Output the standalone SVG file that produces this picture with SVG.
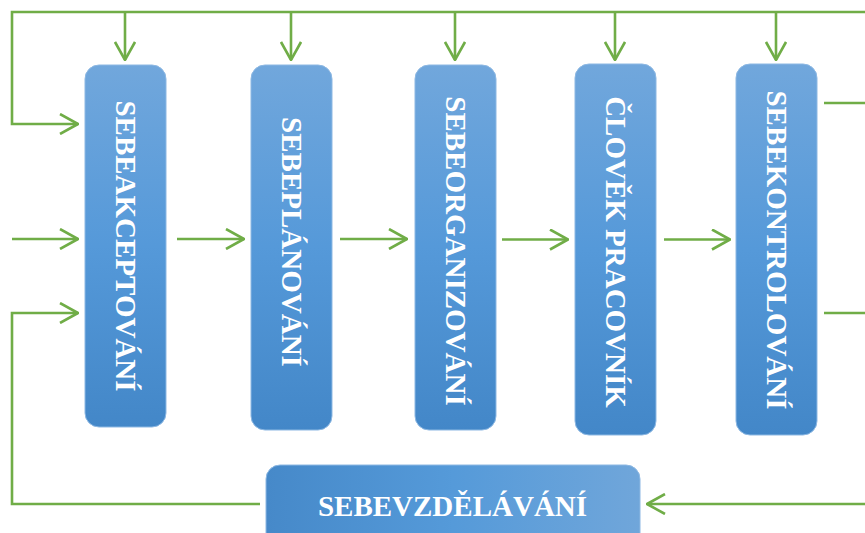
<svg xmlns="http://www.w3.org/2000/svg" width="865" height="533" viewBox="0 0 865 533">
<style>
.box{stroke:#8db8e3;stroke-width:1}
.v{fill:url(#gv)}
.h{fill:url(#gh)}
.lbl{font-family:"Liberation Serif","Times New Roman",serif;font-weight:bold;font-size:29px;fill:#ffffff;text-anchor:middle}
.c{fill:none;stroke:#70ad47;stroke-width:2.6;stroke-linejoin:miter}
</style>
<defs>
<linearGradient id="gv" x1="0" y1="0" x2="0" y2="1">
<stop offset="0" stop-color="#71a7dc"/>
<stop offset="0.5" stop-color="#5599d9"/>
<stop offset="1" stop-color="#4387c8"/>
</linearGradient>
<linearGradient id="gh" x1="0" y1="0" x2="1" y2="0">
<stop offset="0" stop-color="#4689c9"/>
<stop offset="0.5" stop-color="#559ad9"/>
<stop offset="1" stop-color="#70a6da"/>
</linearGradient>
<marker id="ah" viewBox="0 0 20 22" refX="19" refY="11" markerWidth="20" markerHeight="22" markerUnits="userSpaceOnUse" orient="auto">
<path d="M1,1 L19,11 L1,21" fill="none" stroke="#70ad47" stroke-width="2.6"/>
</marker>
</defs>
<g id="connectors">
<path class="c" d="M865,12 L12,12 L12,124 L78,124" marker-end="url(#ah)"/>
<path class="c" d="M125,12 L125,60" marker-end="url(#ah)"/>
<path class="c" d="M291,12 L291,60" marker-end="url(#ah)"/>
<path class="c" d="M455,12 L455,60" marker-end="url(#ah)"/>
<path class="c" d="M615,12 L615,60" marker-end="url(#ah)"/>
<path class="c" d="M776,12 L776,60" marker-end="url(#ah)"/>
<path class="c" d="M12,239 L78,239" marker-end="url(#ah)"/>
<path class="c" d="M177,239 L244,239" marker-end="url(#ah)"/>
<path class="c" d="M340,239 L407,239" marker-end="url(#ah)"/>
<path class="c" d="M502,239.5 L568,239.5" marker-end="url(#ah)"/>
<path class="c" d="M664,239.5 L730,239.5" marker-end="url(#ah)"/>
<path class="c" d="M260,504 L12,504 L12,313 L78,313" marker-end="url(#ah)"/>
<path class="c" d="M824,103 L865,103"/>
<path class="c" d="M824,313 L865,313"/>
<path class="c" d="M865,504 L647,504" marker-end="url(#ah)"/>
</g>
<g id="n1">
<rect class="box v" x="85" y="65" width="81" height="362" rx="14"/>
<text class="lbl" transform="translate(125.5,246) rotate(90)" y="10">SEBEAKCEPTOVÁNÍ</text>
</g>
<g id="n2">
<rect class="box v" x="251" y="65" width="81" height="365" rx="14"/>
<text class="lbl" transform="translate(291.5,242) rotate(90)" y="10">SEBEPLÁNOVÁNÍ</text>
</g>
<g id="n3">
<rect class="box v" x="415" y="65" width="81" height="365" rx="14"/>
<text class="lbl" transform="translate(455.5,251) rotate(90)" y="10">SEBEORGANIZOVÁNÍ</text>
</g>
<g id="n4">
<rect class="box v" x="575" y="64" width="81" height="371" rx="14"/>
<text class="lbl" transform="translate(615.5,252) rotate(90)" y="10">ČLOVĚK PRACOVNÍK</text>
</g>
<g id="n5">
<rect class="box v" x="736" y="64" width="81" height="371" rx="14"/>
<text class="lbl" transform="translate(776.5,250) rotate(90)" y="10">SEBEKONTROLOVÁNÍ</text>
</g>
<g id="n6">
<rect class="box h" x="266" y="465" width="374" height="90" rx="14"/>
<text class="lbl" x="452.5" y="516">SEBEVZDĚLÁVÁNÍ</text>
</g>
</svg>
